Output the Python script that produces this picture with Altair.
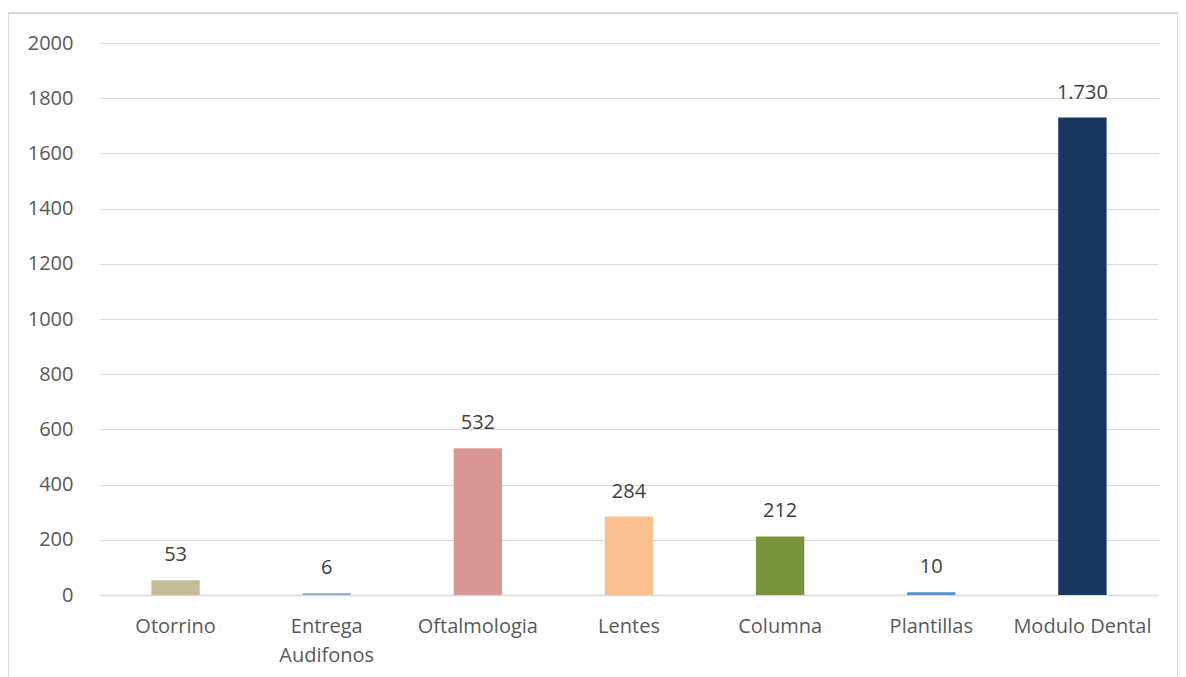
import altair as alt
import pandas as pd

categories = ["Otorrino", "Entrega Audifonos", "Oftalmologia", "Lentes", "Columna", "Plantillas", "Modulo Dental"]
values = [53, 6, 532, 284, 212, 10, 1730]
colors = ["#C4BD97", "#8EA9C1", "#D99694", "#FAC090", "#77933C", "#558ED5", "#17375E"]
y_ticks = [0, 200, 400, 600, 800, 1000, 1200, 1400, 1600, 1800, 2000]

df = pd.DataFrame({"cat": categories, "val": values, "color": colors})
df["label"] = df["val"].map(lambda v: f"{v:,}".replace(",", "."))

FONT = "Open Sans"

x = alt.X("cat:N", sort=categories, title=None,
          scale=alt.Scale(paddingInner=0.68, paddingOuter=0.34),
          axis=alt.Axis(labelAngle=0, labelFontSize=20, labelColor="#595959", labelFont=FONT,
                        labelPadding=21, ticks=False, domainColor="#D9D9D9", domainWidth=1.5,
                        labelLineHeight=29,
                        labelExpr="datum.value == 'Entrega Audifonos' ? ['Entrega', 'Audifonos'] : datum.value"))
y = alt.Y("val:Q", title=None,
          scale=alt.Scale(domain=[0, 2000], nice=False),
          axis=alt.Axis(values=y_ticks, format="d", labelFontSize=20, labelColor="#595959", labelFont=FONT,
                        labelPadding=27, ticks=False, domain=False, gridColor="#D9D9D9", gridWidth=1.2))

bars = alt.Chart(df).mark_bar().encode(
    x=x, y=y, color=alt.Color("color:N", scale=None)
)
text = alt.Chart(df).mark_text(dy=-15, baseline="bottom", fontSize=20, font=FONT, color="#404040").encode(
    x=alt.X("cat:N", sort=categories), y="val:Q", text="label:N"
)
border = alt.Chart(df).mark_rect(fill=None, stroke="#D9D9D9", strokeWidth=1.5).encode(
    x=alt.value(-92), x2=alt.value(1078), y=alt.value(-30), y2=alt.value(700)
)

chart = alt.layer(border, bars, text).properties(
    width=1058, height=552, autosize=alt.AutoSizeParams(type="none"),
    padding={"left": 92, "top": 35, "right": 20, "bottom": 82}
).configure_view(stroke=None)

chart.save("out.html", embed_options={"renderer": "svg", "actions": False})
